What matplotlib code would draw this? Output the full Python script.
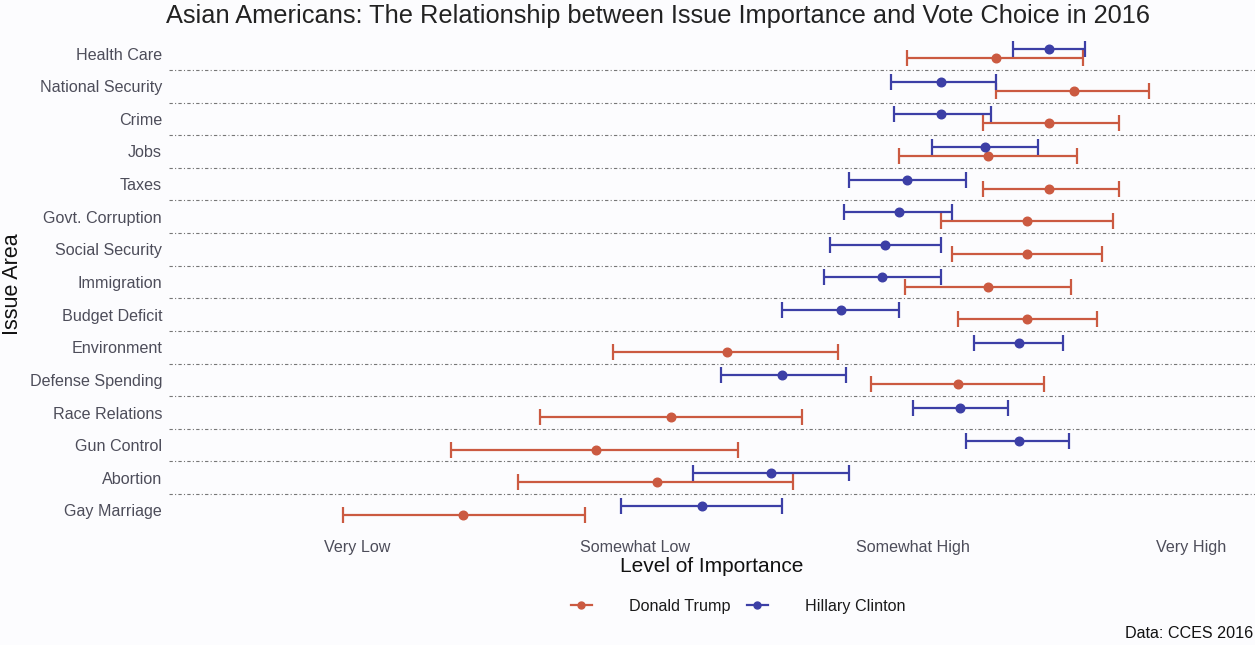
import matplotlib
matplotlib.use("Agg")
import matplotlib.pyplot as plt
from matplotlib.lines import Line2D
import numpy as np

plt.rcParams['font.family'] = ['Liberation Sans', 'DejaVu Sans']

issues = ["Health Care", "National Security", "Crime", "Jobs", "Taxes",
          "Govt. Corruption", "Social Security", "Immigration", "Budget Deficit",
          "Environment", "Defense Spending", "Race Relations", "Gun Control",
          "Abortion", "Gay Marriage"]

trump_mean = [3.30, 3.58, 3.49, 3.27, 3.49, 3.41, 3.41, 3.27, 3.41, 2.33, 3.16, 2.13, 1.86, 2.08, 1.38]
trump_low  = [2.98, 3.30, 3.25, 2.95, 3.25, 3.10, 3.14, 2.97, 3.16, 1.92, 2.85, 1.66, 1.34, 1.58, 0.95]
trump_high = [3.61, 3.85, 3.74, 3.59, 3.74, 3.72, 3.68, 3.57, 3.66, 2.73, 3.47, 2.60, 2.37, 2.57, 1.82]

clinton_mean = [3.49, 3.10, 3.10, 3.26, 2.98, 2.95, 2.90, 2.89, 2.74, 3.38, 2.53, 3.17, 3.38, 2.49, 2.24]
clinton_low  = [3.36, 2.92, 2.93, 3.07, 2.77, 2.75, 2.70, 2.68, 2.53, 3.22, 2.31, 3.00, 3.19, 2.21, 1.95]
clinton_high = [3.62, 3.30, 3.28, 3.45, 3.19, 3.14, 3.10, 3.10, 2.95, 3.54, 2.76, 3.34, 3.56, 2.77, 2.53]

level_ticks = [1, 2, 3, 4]
level_labels = ["Very Low", "Somewhat Low", "Somewhat High", "Very High"]

red = "#CB5A41"
blue = "#3C3FA6"

fig = plt.figure(figsize=(12.55, 6.45), dpi=100)
fig.patch.set_facecolor("#FCFCFE")
ax = fig.add_axes([169/1255, 1 - 530/645, 1 - 169/1255, (530 - 34)/645])
ax.set_facecolor("#FCFCFE")

n = len(issues)
ypos = np.arange(n, 0, -1)  # Health Care at top
off = 0.14

tm = np.array(trump_mean); tl = np.array(trump_low); th = np.array(trump_high)
cm = np.array(clinton_mean); cl = np.array(clinton_low); ch = np.array(clinton_high)

for k in range(1, n):
    ax.axhline(k + 0.5, color="#777777", lw=0.8, ls=(0, (3, 2, 1, 2)), zorder=0)

ax.errorbar(tm, ypos - off, xerr=[tm - tl, th - tm], fmt="o", color=red,
            ms=6.2, elinewidth=1.6, capsize=6, capthick=1.6, zorder=3)
ax.errorbar(cm, ypos + off, xerr=[cm - cl, ch - cm], fmt="o", color=blue,
            ms=6.2, elinewidth=1.6, capsize=6, capthick=1.6, zorder=3)

ax.set_xlim(0.324, 4.23)
ax.set_ylim(0.4, n + 0.6)
ax.set_yticks(ypos)
ax.set_yticklabels(issues)
ax.set_xticks(level_ticks)
ax.set_xticklabels(level_labels)
ax.tick_params(axis="both", length=0, labelsize=11.6, labelcolor="#4D4D5A")
ax.tick_params(axis="x", pad=7)
ax.tick_params(axis="y", pad=5)
for s in ax.spines.values():
    s.set_visible(False)

ax.set_xlabel("Level of Importance", fontsize=15, color="#111111", labelpad=2)
fig.text(13/1255, 1 - 284/645, "Issue Area", rotation=90, fontsize=15.5,
         color="#111111", ha="center", va="center")

fig.text(658/1255, 1 - 16/645,
         "Asian Americans: The Relationship between Issue Importance and Vote Choice in 2016",
         fontsize=18.3, color="#222222", ha="center", va="center")

handles = [Line2D([0], [0], color=red, marker="o", ms=5, lw=1.6),
           Line2D([0], [0], color=blue, marker="o", ms=5, lw=1.6)]
fig.legend(handles, ["Donald Trump", "Hillary Clinton"], loc="center",
           bbox_to_anchor=(738/1255, 1 - 606/645), ncol=2, frameon=False,
           fontsize=11.6, handlelength=1.3, handletextpad=2.3, columnspacing=1.0,
           labelcolor="#1A1A1A")

fig.text(1253/1255, 1 - 634/645, "Data: CCES 2016", fontsize=11.6,
         color="#111111", ha="right", va="center")

fig.savefig("out.png", dpi=100, facecolor=fig.get_facecolor())
